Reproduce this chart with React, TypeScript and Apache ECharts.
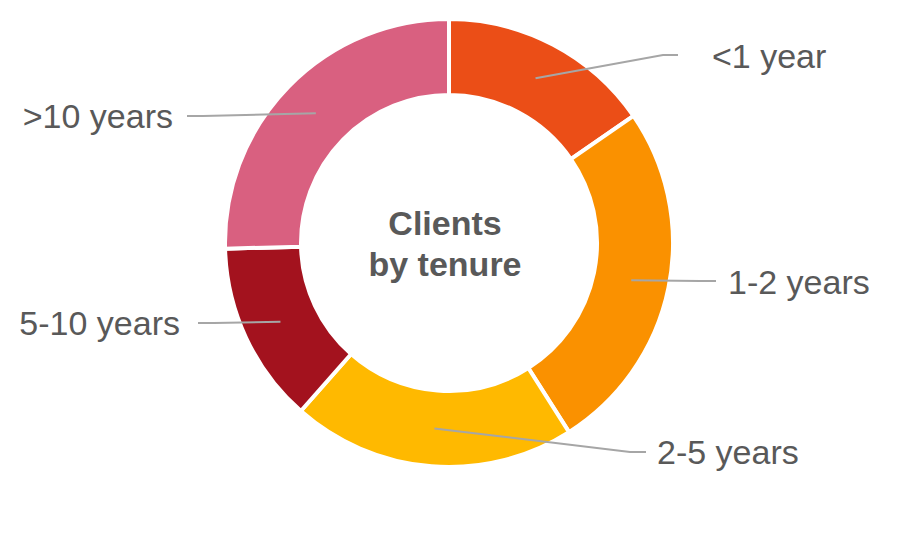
import React, { useEffect, useRef } from 'react';
import * as echarts from 'echarts';

const categories = ['<1 year', '1-2 years', '2-5 years', '5-10 years', '>10 years'];
const shares = [15.4, 25.6, 20.5, 13.1, 25.4];
const colors = ['#EB4E17', '#FA9100', '#FFB900', '#A3121E', '#D96080'];
const centerTitle = 'Clients\nby tenure';

// label placement (layout only)
const labelPlacement: { x: number; y: number; align: string; elbow: number[]; end: number[] }[] = [
  { x: 712, y: 56, align: 'left', elbow: [663, 55], end: [678, 55] },
  { x: 728, y: 282, align: 'left', elbow: [700, 281], end: [716, 281] },
  { x: 657, y: 452, align: 'left', elbow: [630, 452], end: [646, 452] },
  { x: 180, y: 323, align: 'right', elbow: [214, 323], end: [198, 323] },
  { x: 173, y: 116, align: 'right', elbow: [203, 116], end: [187, 116] },
];

const FONT = '"Liberation Sans", Arial, Helvetica, sans-serif';

export default function App() {
  const ref = useRef<HTMLDivElement>(null);
  useEffect(() => {
    if (!ref.current) return;
    const chart = echarts.init(ref.current, undefined, { renderer: 'svg' });
    const data = categories.map((name, i) => ({ name, value: shares[i] }));
    chart.setOption({
      animation: false,
      backgroundColor: '#ffffff',
      color: colors,
      graphic: [
        {
          type: 'text',
          x: 445,
          y: 243,
          z: 10,
          style: {
            text: centerTitle,
            fill: '#595959',
            fontSize: 34,
            fontWeight: 'bold',
            fontFamily: FONT,
            align: 'center',
            verticalAlign: 'middle',
            lineHeight: 41,
          },
        },
      ],
      series: [
        {
          type: 'pie',
          radius: [148, 224],
          center: [449, 243],
          startAngle: 90,
          clockwise: true,
          z: 2,
          silent: true,
          avoidLabelOverlap: false,
          itemStyle: { borderColor: '#ffffff', borderWidth: 4 },
          label: { show: false },
          labelLine: { show: false },
          emphasis: { disabled: true },
          data: data.map((d, i) => ({ ...d, itemStyle: { color: colors[i] } })),
        },
        {
          type: 'pie',
          radius: [0, 186],
          center: [449, 243],
          startAngle: 90,
          clockwise: true,
          z: 3,
          silent: true,
          avoidLabelOverlap: false,
          itemStyle: { color: 'rgba(0,0,0,0)', borderWidth: 0 },
          label: {
            show: true,
            position: 'outside',
            formatter: '{b}',
            fontSize: 34,
            color: '#595959',
            fontFamily: FONT,
          },
          labelLine: {
            show: true,
            length: 20,
            length2: 15,
            lineStyle: { color: '#A6A6A6', width: 2 },
          },
          labelLayout: (params: any) => {
            const p = labelPlacement[params.dataIndex];
            const start = params.labelLinePoints ? params.labelLinePoints[0] : null;
            const res: any = { x: p.x, y: p.y, align: p.align, verticalAlign: 'middle' };
            if (start) res.labelLinePoints = [start, p.elbow, p.end];
            return res;
          },
          emphasis: { disabled: true },
          data,
        },
      ],
    });
    return () => chart.dispose();
  }, []);
  return (
    <div
      ref={ref}
      style={{ position: 'absolute', left: 0, top: 0, width: 900, height: 533, background: '#fff' }}
    />
  );
}
